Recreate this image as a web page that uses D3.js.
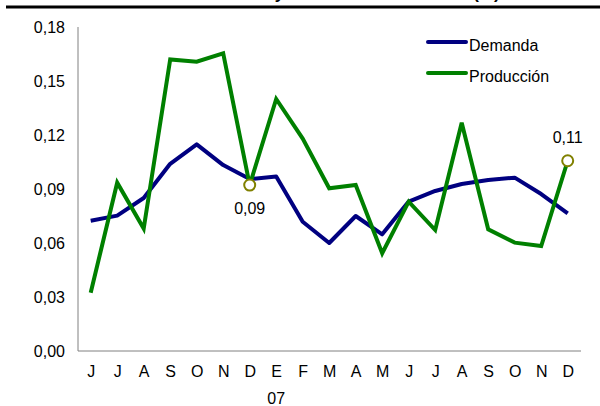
<!DOCTYPE html>
<html>
<head>
<meta charset="utf-8">
<script src="https://cdn.jsdelivr.net/npm/d3@7"></script>
<style>
  body{margin:0;background:#fff;}
  svg{display:block;font-family:"Liberation Sans",Arial,sans-serif;}
</style>
</head>
<body>
<svg id="chart" width="600" height="406"></svg>
<script>
// datos
const months = ["J","J","A","S","O","N","D","E","F","M","A","M","J","J","A","S","O","N","D"];
const demanda = [0.0724,0.0752,0.085,0.104,0.1148,0.1033,0.0955,0.097,0.0718,0.060,0.075,0.0648,0.083,0.0889,0.0928,0.095,0.0963,0.0872,0.0765];
const produccion = [0.0324,0.0935,0.068,0.162,0.1607,0.1654,0.0922,0.140,0.118,0.0904,0.0922,0.0543,0.083,0.0672,0.1268,0.0676,0.0602,0.0583,0.1057];
const yTicks = [0,0.03,0.06,0.09,0.12,0.15,0.18];
const yearLabel = {idx:7, text:"07"};
const marked = [{idx:6, label:"0,09"},{idx:18, label:"0,11"}];

const svg = d3.select("#chart");
const fmt = v => d3.format(".2f")(v).replace(".", ",");

// titulo (cortado arriba, como en el original)
svg.append("text").attr("x",305).attr("y",-1).attr("text-anchor","middle")
  .attr("font-size","17px").attr("font-weight","bold").attr("fill","#000")
  .text("Gráfico 4. Demanda y Producción: Variación (%)");
svg.append("line").attr("x1",6).attr("x2",600).attr("y1",7).attr("y2",7)
  .attr("stroke","#000").attr("stroke-width",3);

const idx = months.map((d,i)=>i);
const x = d3.scalePoint().domain(idx).range([90.7,567.7]);
const y = d3.scaleLinear().domain([0,0.18]).range([351,27]);

// eje y
const yAxis = svg.append("g").attr("transform","translate(78,0)")
  .call(d3.axisLeft(y).tickValues(yTicks).tickSize(0).tickPadding(13).tickFormat(fmt));
yAxis.select(".domain").attr("stroke","#808080").attr("d","M0,"+y(0.18)+"V"+y(0));
yAxis.selectAll("text").attr("font-size","16px").attr("fill","#000").attr("font-family","Liberation Sans, Arial, sans-serif");

// eje x
const xAxis = svg.append("g").attr("transform","translate(0,351)")
  .call(d3.axisBottom(x).tickSize(0).tickPadding(15).tickFormat(i=>months[i]));
xAxis.select(".domain").attr("stroke","#808080").attr("d","M78,0H581");
xAxis.selectAll("text").attr("font-size","16px").attr("fill","#000").attr("font-family","Liberation Sans, Arial, sans-serif");

svg.append("text").attr("x",x(yearLabel.idx)).attr("y",404).attr("text-anchor","middle")
  .attr("font-size","16px").attr("fill","#000").text(yearLabel.text);

// lineas
const line = arr => d3.line().x((d,i)=>x(i)).y(d=>y(d))(arr);
svg.append("path").attr("d",line(demanda)).attr("fill","none")
  .attr("stroke","#000080").attr("stroke-width",4).attr("stroke-linejoin","round");
svg.append("path").attr("d",line(produccion)).attr("fill","none")
  .attr("stroke","#008000").attr("stroke-width",4).attr("stroke-linejoin","miter");

// puntos marcados
marked.forEach((m,k)=>{
  svg.append("circle").attr("cx",x(m.idx)).attr("cy",y(produccion[m.idx])).attr("r",5.5)
    .attr("fill","#fff").attr("stroke","#808000").attr("stroke-width",2);
  svg.append("text").attr("x",x(m.idx)).attr("y",k==0 ? y(produccion[m.idx])+29 : y(produccion[m.idx])-18)
    .attr("text-anchor","middle").attr("font-size","16px").attr("fill","#000").text(m.label);
});

// leyenda
const legend = [{name:"Demanda",color:"#000080",y:42},{name:"Producción",color:"#008000",y:73}];
legend.forEach(l=>{
  svg.append("line").attr("x1",428).attr("x2",466).attr("y1",l.y).attr("y2",l.y)
    .attr("stroke",l.color).attr("stroke-width",4).attr("stroke-linecap","round");
  svg.append("text").attr("x",469).attr("y",l.y+9).attr("font-size","16px").attr("fill","#000").text(l.name);
});
</script>
</body>
</html>
